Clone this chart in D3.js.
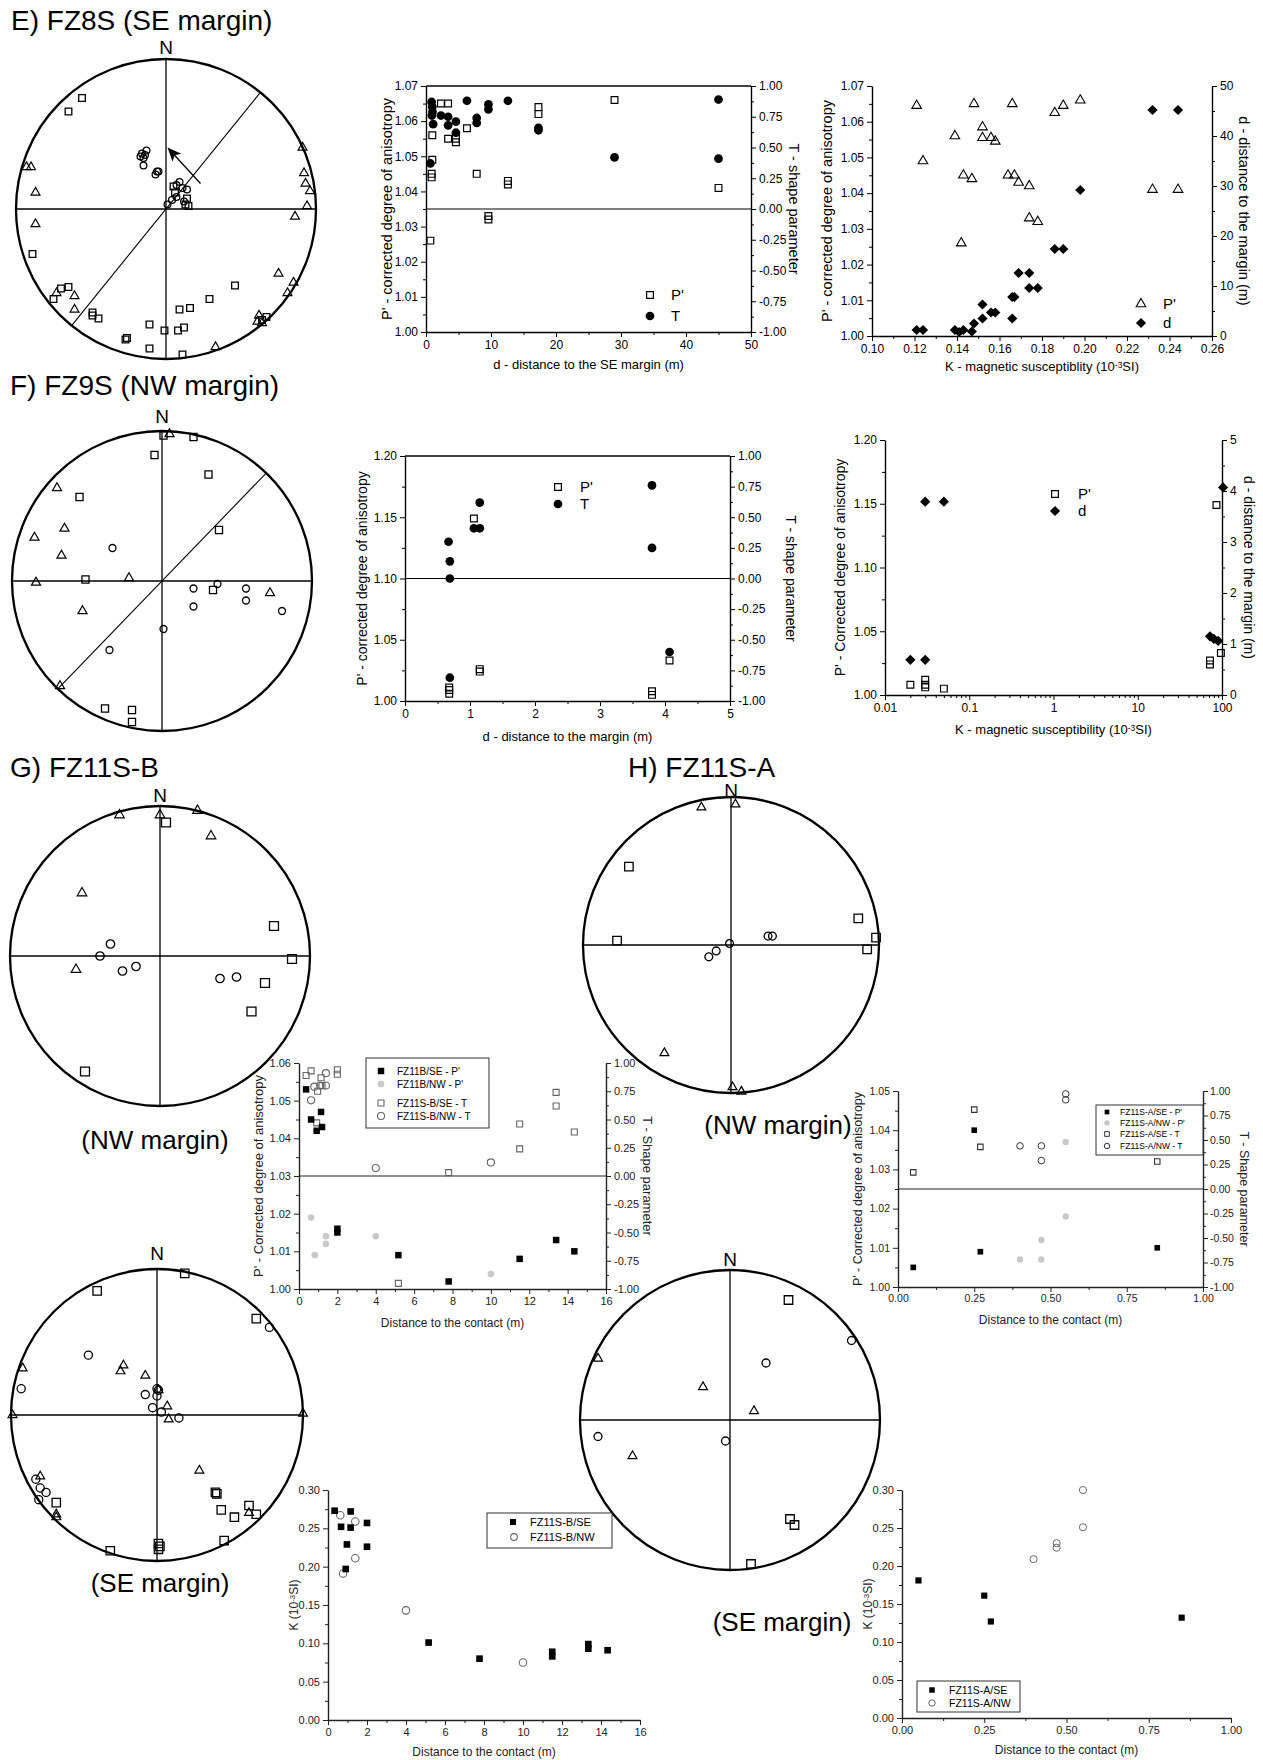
<!DOCTYPE html>
<html><head><meta charset="utf-8">
<script src="https://cdn.jsdelivr.net/npm/d3@7"></script>
<style>
body{margin:0;background:#fff;}
svg{display:block;background:#fff;}
</style></head><body>
<script>
// ======================= DATA =======================
// Stereonets: points given in Schmidt-net (equal-area) projected coordinates, unit radius: [east, north]
// ---- E) FZ8S (SE margin)
const E_netSquares = [[-0.56,0.74],[-0.65,0.65],[-0.89,-0.30],[-0.65,-0.52],[-0.70,-0.53],[-0.75,-0.60],[-0.49,-0.69],[-0.49,-0.71],[-0.45,-0.73],[-0.27,-0.87],[-0.26,-0.86],[-0.11,-0.93],[-0.11,-0.77],[-0.01,-0.81],[0.09,-0.67],[0.16,-0.66],[0.12,-0.79],[0.08,-0.81],[0.11,-0.97],[0.29,-0.60],[0.46,-0.51],[0.67,-0.72],[0.64,-0.74],[0.05,0.15],[0.14,0.07],[0.13,0.03],[0.06,0.11],[0.15,0.02]];
const E_netTriangles = [[-0.93,0.28],[-0.90,0.28],[-0.87,0.11],[-0.87,-0.10],[-0.73,-0.56],[-0.61,-0.58],[-0.61,-0.67],[0.91,0.41],[0.92,0.24],[0.93,0.17],[0.96,0.12],[0.94,0.02],[0.86,-0.05],[0.75,-0.43],[0.85,-0.49],[0.81,-0.56],[0.62,-0.71],[0.61,-0.75],[0.64,-0.76],[0.33,-0.92]];
const E_netCircles = [[-0.16,0.37],[-0.14,0.36],[-0.17,0.35],[-0.13,0.39],[-0.15,0.34],[-0.15,0.29],[-0.06,0.25],[-0.07,0.23],[-0.05,0.25],[0.09,0.18],[0.14,0.13],[0.07,0.08],[0.04,0.06],[0.01,0.03],[0.11,0.14],[0.07,0.16],[0.12,0.05]];
const E_planeAzimuth = 39;
const E_arrow = [[0.23,0.17],[0.01,0.41]];
// E) P' and T vs distance to the SE margin
const E_P_dist = [0.97,0.97,0.87,0.87,0.67,2.3,3.4,3.4,4.6,4.6,6.3,7.8,9.6,9.6,12.6,12.6,17.3,17.3,29.0,45.0];
const E_P_val  = [1.056,1.049,1.045,1.044,1.026,1.065,1.065,1.055,1.055,1.054,1.058,1.045,1.033,1.032,1.043,1.042,1.064,1.062,1.066,1.041];
const E_T_dist = [0.87,0.97,1.0,0.9,1.1,0.67,2.3,3.4,3.4,4.6,4.6,6.3,7.8,7.8,9.6,9.6,12.6,17.3,17.3,29.0,45.0,45.0];
const E_T_val  = [0.87,0.83,0.79,0.76,0.69,0.37,0.76,0.75,0.68,0.71,0.62,0.88,0.74,0.70,0.85,0.81,0.88,0.66,0.64,0.42,0.89,0.41];
// E) P' and d vs K
const E_K_tri = [0.121,0.124,0.139,0.142,0.143,0.147,0.148,0.152,0.152,0.156,0.158,0.166,0.164,0.167,0.169,0.174,0.174,0.178,0.186,0.190,0.198,0.232,0.244];
const E_P_tri = [1.0645,1.049,1.056,1.026,1.045,1.044,1.065,1.0585,1.0555,1.0555,1.0545,1.065,1.045,1.045,1.043,1.042,1.033,1.032,1.0625,1.0645,1.066,1.041,1.041];
const E_K_dia = [0.121,0.124,0.139,0.141,0.143,0.147,0.148,0.152,0.152,0.156,0.158,0.166,0.166,0.167,0.169,0.174,0.174,0.178,0.186,0.190,0.198,0.232,0.244];
const E_d_dia = [1.2,1.2,1.2,0.8,1.2,0.9,2.5,3.5,6.3,4.7,4.7,7.8,3.5,7.8,12.6,12.6,9.6,9.6,17.4,17.4,29.2,45.2,45.2];

// ---- F) FZ9S (NW margin)
const F_netSquares = [[0.01,0.97],[0.21,0.96],[-0.05,0.84],[0.31,0.71],[-0.55,0.56],[0.38,0.34],[-0.51,0.01],[0.34,-0.06],[-0.38,-0.85],[-0.20,-0.86],[-0.20,-0.94]];
const F_netTriangles = [[0.05,0.98],[-0.70,0.62],[-0.65,0.35],[-0.85,0.29],[-0.67,0.17],[-0.84,-0.01],[-0.22,0.02],[-0.53,-0.20],[0.72,-0.08],[-0.68,-0.70]];
const F_netCircles = [[-0.33,0.22],[0.21,-0.05],[0.37,-0.02],[0.56,-0.05],[0.21,-0.17],[0.56,-0.13],[0.80,-0.20],[0.01,-0.32],[-0.35,-0.46]];
const F_planeAzimuth = 44;
const F_P_dist = [0.68,0.68,0.68,1.06,1.15,1.15,3.80,3.80,4.07];
const F_P_val  = [1.011,1.009,1.006,1.149,1.026,1.024,1.008,1.005,1.033];
const F_T_dist = [0.67,0.69,0.69,0.69,1.06,1.15,1.15,3.80,3.80,4.07];
const F_T_val  = [0.30,0.14,0.00,-0.81,0.41,0.41,0.62,0.76,0.25,-0.60];
const F_K_sq = [0.02,0.03,0.03,0.03,0.05,86,72,72,97];
const F_P_sq = [1.008,1.012,1.008,1.006,1.005,1.149,1.027,1.024,1.033];
const F_K_dia = [0.02,0.03,0.03,0.05,72,80,90,103];
const F_d_dia = [0.69,0.69,3.79,3.79,1.15,1.10,1.06,4.07];

// ---- G) FZ11S-B
const G1_netTriangles = [[-0.27,0.94],[0.00,0.94],[0.25,0.97],[0.34,0.80],[-0.52,0.42],[-0.56,-0.09]];
const G1_netSquares = [[0.04,0.89],[0.76,0.20],[0.88,-0.02],[0.70,-0.18],[0.61,-0.37],[-0.50,-0.77]];
const G1_netCircles = [[-0.33,0.08],[-0.40,0.00],[-0.25,-0.10],[-0.16,-0.07],[0.40,-0.15],[0.51,-0.14]];
const G2_netSquares = [[0.19,0.97],[-0.41,0.85],[0.68,0.66],[-0.69,-0.60],[0.40,-0.53],[0.41,-0.54],[0.44,-0.65],[0.53,-0.70],[0.63,-0.62],[0.68,-0.68],[0.46,-0.86],[-0.32,-0.93],[0.01,-0.88],[0.02,-0.90],[0.01,-0.92]];
const G2_netTriangles = [[-0.92,0.32],[-0.23,0.34],[-0.25,0.30],[-0.08,0.27],[0.07,0.06],[0.08,-0.03],[-0.99,0.00],[1.00,0.01],[-0.80,-0.42],[-0.69,-0.68],[-0.69,-0.70],[0.29,-0.38],[0.63,-0.67],[0.01,0.17]];
const G2_netCircles = [[-0.47,0.41],[-0.93,0.18],[0.77,0.60],[-0.08,0.14],[0.00,0.13],[0.01,0.17],[0.00,0.18],[-0.03,0.05],[0.03,0.02],[0.15,-0.02],[-0.83,-0.44],[-0.80,-0.50],[-0.76,-0.53],[-0.81,-0.58]];
const G_SE_P_dist = [0.37,0.63,0.92,1.15,1.2,2.0,2.0,5.18,7.8,11.5,13.4,14.35];
const G_SE_P_val  = [1.053,1.045,1.042,1.047,1.043,1.016,1.015,1.009,1.002,1.008,1.013,1.010];
const G_NW_P_dist = [0.63,0.82,1.4,1.4,4.0,10.0];
const G_NW_P_val  = [1.019,1.009,1.014,1.012,1.014,1.004];
const G_SE_T_dist = [0.37,0.63,0.97,1.15,1.2,0.92,2.0,2.0,5.18,7.8,11.5,11.5,13.4,13.4,14.35];
const G_SE_T_val  = [0.89,0.93,0.75,0.87,0.80,0.47,0.94,0.90,-0.95,0.03,0.46,0.24,0.74,0.62,0.39];
const G_NW_T_dist = [0.63,0.8,1.1,1.4,1.4,4.0,10.0];
const G_NW_T_val  = [0.67,0.79,0.80,0.91,0.80,0.07,0.12];
const G_SE_K_dist = [0.34,0.67,1.16,1.16,0.97,0.91,2.0,2.0,5.16,7.77,11.5,11.5,13.35,13.35,14.34];
const G_SE_K_val  = [0.273,0.252,0.272,0.251,0.229,0.197,0.257,0.226,0.101,0.080,0.089,0.083,0.099,0.093,0.091];
const G_NW_K_dist = [0.63,1.4,0.77,1.4,4.0,10.0];
const G_NW_K_val  = [0.267,0.259,0.191,0.211,0.143,0.075];

// ---- H) FZ11S-A
const H1_netTriangles = [[-0.20,0.93],[0.03,0.95],[-0.45,-0.73],[0.01,-0.96],[0.07,-0.99]];
const H1_netSquares = [[-0.69,0.53],[-0.77,0.03],[0.86,0.18],[0.98,0.05],[0.92,-0.03]];
const H1_netCircles = [[0.25,0.06],[0.28,0.06],[-0.01,0.01],[-0.10,-0.04],[-0.15,-0.08]];
const H2_netSquares = [[0.39,0.80],[0.40,-0.66],[0.43,-0.70],[0.14,-0.96]];
const H2_netTriangles = [[-0.88,0.41],[-0.18,0.22],[0.16,0.06],[-0.65,-0.24]];
const H2_netCircles = [[0.81,0.53],[0.24,0.38],[-0.88,-0.11],[-0.03,-0.14]];
const H_SE_P_dist = [0.05,0.25,0.27,0.85];
const H_SE_P_val  = [1.005,1.040,1.009,1.010];
const H_NW_P_dist = [0.40,0.47,0.47,0.55,0.55];
const H_NW_P_val  = [1.007,1.007,1.012,1.018,1.037];
const H_SE_T_dist = [0.05,0.25,0.27,0.85];
const H_SE_T_val  = [0.17,0.81,0.43,0.28];
const H_NW_T_dist = [0.40,0.47,0.47,0.55,0.55];
const H_NW_T_val  = [0.44,0.44,0.29,0.97,0.91];
const H_SE_K_dist = [0.05,0.25,0.27,0.85];
const H_SE_K_val  = [0.181,0.161,0.127,0.132];
const H_NW_K_dist = [0.40,0.47,0.47,0.55,0.55];
const H_NW_K_val  = [0.209,0.230,0.224,0.300,0.251];

// ---- Tick labels
const T_ticks = [-1,-0.75,-0.5,-0.25,0,0.25,0.5,0.75,1];
const E_dTicks = [0,10,20,30,40,50];
const E_PTicks = [1.00,1.01,1.02,1.03,1.04,1.05,1.06,1.07];
const E_KTicks = [0.10,0.12,0.14,0.16,0.18,0.20,0.22,0.24,0.26];
const F_dTicks = [0,1,2,3,4,5];
const F_PTicks = [1.00,1.05,1.10,1.15,1.20];
const F_KTicks = [0.01,0.1,1,10,100];
const G_dTicks = [0,2,4,6,8,10,12,14,16];
const G_PTicks = [1.00,1.01,1.02,1.03,1.04,1.05,1.06];
const H_dTicks = [0,0.25,0.5,0.75,1];
const H_PTicks = [1.00,1.01,1.02,1.03,1.04,1.05];
const K_Ticks = [0,0.05,0.10,0.15,0.20,0.25,0.30];

// ======================= DRAWING =======================
const FONT = '"Liberation Sans", Arial, Helvetica, sans-serif';
const svg = d3.select("body").append("svg").attr("width",1263).attr("height",1760)
  .attr("font-family",FONT);

const SHAPES = {square:d3.symbolSquare, circle:d3.symbolCircle, triangle:d3.symbolTriangle, diamond:d3.symbolSquare};
function marks(g, pts, xs, ys, m){
  g.append("g").selectAll("path").data(pts).join("path")
    .attr("d", d3.symbol().type(SHAPES[m.shape]).size(m.size))
    .attr("transform", d => `translate(${xs(d[0])},${ys(d[1])})` + (m.shape==="diamond"?" rotate(45)":""))
    .attr("fill", m.fill||"none").attr("stroke", m.stroke||"none").attr("stroke-width", m.sw||1);
}
const zip = (a,b) => a.map((v,i)=>[v,b[i]]);
const f2 = d => d.toFixed(2);

function rich(sel, parts, supSize){
  parts.forEach(p => {
    if (typeof p === "string") sel.append("tspan").text(p);
    else sel.append("tspan").attr("baseline-shift","38%").attr("font-size",supSize).text(p.sup);
  });
}

function chart(o){
  const g = svg.append("g");
  const x = (o.xLog ? d3.scaleLog() : d3.scaleLinear()).domain(o.xDomain).range([o.L,o.R]);
  const yL = d3.scaleLinear().domain(o.yLDomain).range([o.B,o.T]);
  const yR = o.yRDomain ? d3.scaleLinear().domain(o.yRDomain).range([o.B,o.T]) : null;
  const fs = o.fs || 12, col = o.col || "#000";
  function ax(gen, tx, ty, major){
    const a = g.append("g").attr("transform",`translate(${tx},${ty})`).call(gen);
    a.select(".domain").attr("stroke", major ? col : "none").attr("stroke-width",1.4);
    a.selectAll(".tick line").attr("stroke",col).attr("stroke-width",1);
    a.selectAll(".tick text").attr("font-size",fs).attr("font-family",FONT).attr("fill",col);
  }
  ax(d3.axisBottom(x).tickValues(o.xMinor).tickSize(3).tickFormat(""), 0, o.B, false);
  ax(d3.axisBottom(x).tickValues(o.xTicks).tickSize(5).tickSizeOuter(0).tickPadding(3).tickFormat(o.xFmt), 0, o.B, true);
  ax(d3.axisLeft(yL).tickValues(o.yLMinor).tickSize(3).tickFormat(""), o.L, 0, false);
  ax(d3.axisLeft(yL).tickValues(o.yLTicks).tickSize(5).tickSizeOuter(0).tickPadding(3).tickFormat(o.yLFmt), o.L, 0, true);
  if (yR){
    ax(d3.axisRight(yR).tickValues(o.yRMinor).tickSize(3).tickFormat(""), o.R, 0, false);
    ax(d3.axisRight(yR).tickValues(o.yRTicks).tickSize(5).tickSizeOuter(0).tickPadding(o.rPad||3).tickFormat(o.yRFmt), o.R, 0, true);
  }
  if (o.box) g.append("line").attr("x1",o.L).attr("x2",o.R).attr("y1",o.T).attr("y2",o.T).attr("stroke",col).attr("stroke-width",1.4);
  if (o.zero && yR) g.append("line").attr("x1",o.L).attr("x2",o.R).attr("y1",yR(0)).attr("y2",yR(0)).attr("stroke",col).attr("stroke-width",1.2);
  const tfs = o.tfs || 13, rfs = o.rfs || tfs;
  const midY = (o.T+o.B)/2;
  if (o.lt){ const t = g.append("text").attr("transform",`translate(${o.ltX},${midY}) rotate(-90)`).attr("text-anchor","middle").attr("dy","0.35em").attr("font-size",rfs).attr("fill",col); rich(t, o.lt, rfs*0.65); }
  if (o.rt){ g.append("text").attr("transform",`translate(${o.rtX},${midY}) rotate(90)`).attr("text-anchor","middle").attr("dy","0.35em").attr("font-size",rfs).attr("fill",col).text(o.rt); }
  if (o.bt){ const t = g.append("text").attr("x",(o.L+o.R)/2).attr("y",o.btY).attr("text-anchor","middle").attr("dy","0.35em").attr("font-size",tfs).attr("fill",col); rich(t, o.bt, tfs*0.65); }
  return {g,x,yL,yR};
}

function net(o){
  const g = svg.append("g");
  const sx = d3.scaleLinear().domain([-1,1]).range([o.cx-o.R,o.cx+o.R]);
  const sy = d3.scaleLinear().domain([-1,1]).range([o.cy+o.R,o.cy-o.R]);
  const ln = (x1,y1,x2,y2,w) => g.append("line").attr("x1",sx(x1)).attr("y1",sy(y1)).attr("x2",sx(x2)).attr("y2",sy(y2)).attr("stroke","#000").attr("stroke-width",w);
  ln(0,1,0,-1,1.3); ln(-1,0,1,0,1.3);
  if (o.planeAz != null){
    const a = o.planeAz*Math.PI/180;
    ln(Math.sin(a),Math.cos(a),-Math.sin(a),-Math.cos(a),1.1);
  }
  g.append("circle").attr("cx",sx(0)).attr("cy",sy(0)).attr("r",o.R).attr("fill","none").attr("stroke","#000").attr("stroke-width",2.3);
  g.append("text").attr("x",sx(0)).attr("y",sy(1)-o.nGap).attr("text-anchor","middle").attr("font-size",19).text("N");
  marks(g, o.squares, sx, sy, {shape:"square", size:o.sq, stroke:"#000", sw:1.3});
  marks(g, o.triangles, sx, sy, {shape:"triangle", size:o.tr, stroke:"#000", sw:1.2});
  marks(g, o.circles, sx, sy, {shape:"circle", size:o.ci, stroke:"#000", sw:1.3});
  if (o.arrow){
    const [p0,p1] = o.arrow;
    const x0=sx(p0[0]), y0=sy(p0[1]), x1=sx(p1[0]), y1=sy(p1[1]);
    const L = Math.hypot(x1-x0,y1-y0), ux=(x1-x0)/L, uy=(y1-y0)/L, hl=14, hw=6;
    g.append("line").attr("x1",x0).attr("y1",y0).attr("x2",x1-ux*hl*0.7).attr("y2",y1-uy*hl*0.7).attr("stroke","#000").attr("stroke-width",1.3);
    g.append("path").attr("d",`M${x1},${y1}L${x1-ux*hl-uy*hw},${y1-uy*hl+ux*hw}L${x1-ux*hl*0.75},${y1-uy*hl*0.75}L${x1-ux*hl+uy*hw},${y1-uy*hl-ux*hw}Z`).attr("fill","#000");
  }
  return g;
}
function label(x,y,txt,fs,anchor){
  svg.append("text").attr("x",x).attr("y",y).attr("font-size",fs).attr("text-anchor",anchor||"start").text(txt);
}
function legendItem(g, x, y, m, txt, tx, fs){
  marks(g, [[0,0]], v=>x+v, v=>y+v, m);
  g.append("text").attr("x",tx).attr("y",y).attr("dy","0.35em").attr("font-size",fs).text(txt);
}
const minorRange = (a,b,s) => d3.range(a, b+s/2, s).map(v=>+v.toFixed(4));

// ---------------- Titles ----------------
label(11,30,"E)  FZ8S (SE margin)",28);
label(10,395,"F)  FZ9S (NW margin)",28);
label(10,777,"G)  FZ11S-B",28);
label(628,777,"H)  FZ11S-A",28);
label(155,1149,"(NW margin)",26,"middle");
label(160,1592,"(SE margin)",26,"middle");
label(778,1134,"(NW margin)",26,"middle");
label(782,1631,"(SE margin)",26,"middle");

// ---------------- Stereonets ----------------
net({cx:166,cy:209,R:150,nGap:5,planeAz:E_planeAzimuth,arrow:E_arrow,squares:E_netSquares,triangles:E_netTriangles,circles:E_netCircles,sq:44,tr:34,ci:36});
net({cx:162,cy:581,R:150,nGap:8,planeAz:F_planeAzimuth,squares:F_netSquares,triangles:F_netTriangles,circles:F_netCircles,sq:50,tr:36,ci:38});
net({cx:160,cy:956,R:150,nGap:4,squares:G1_netSquares,triangles:G1_netTriangles,circles:G1_netCircles,sq:80,tr:40,ci:56});
net({cx:157,cy:1415,R:146,nGap:9,squares:G2_netSquares,triangles:G2_netTriangles,circles:G2_netCircles,sq:70,tr:34,ci:52});
net({cx:731,cy:945,R:148,nGap:0,squares:H1_netSquares,triangles:H1_netTriangles,circles:H1_netCircles,sq:72,tr:34,ci:48});
net({cx:730,cy:1420,R:150,nGap:4,squares:H2_netSquares,triangles:H2_netTriangles,circles:H2_netCircles,sq:72,tr:34,ci:50});

// ---------------- E middle: P', T vs d ----------------
{
  const c = chart({L:426,R:751,T:86,B:332,xDomain:[0,50],xTicks:E_dTicks,xMinor:minorRange(5,45,10),xFmt:d3.format("d"),
    yLDomain:[1,1.07],yLTicks:E_PTicks,yLMinor:minorRange(1.005,1.065,0.01),yLFmt:f2,
    yRDomain:[-1,1],yRTicks:T_ticks,yRMinor:minorRange(-0.875,0.875,0.25),yRFmt:f2,box:true,zero:true,rfs:14.5,
    lt:["P' - corrected degree of anisotropy"],ltX:387,rt:"T - shape parameter",rtX:794,bt:["d - distance to the SE margin (m)"],btY:364});
  marks(c.g, zip(E_P_dist,E_P_val), c.x, c.yL, {shape:"square",size:46,stroke:"#000",sw:1.2});
  marks(c.g, zip(E_T_dist,E_T_val), c.x, c.yR, {shape:"circle",size:60,fill:"#000"});
  legendItem(c.g,650,295,{shape:"square",size:46,stroke:"#000",sw:1.2},"P'",671,15);
  legendItem(c.g,650,316,{shape:"circle",size:60,fill:"#000"},"T",671,15);
}
// ---------------- E right: P', d vs K ----------------
{
  const c = chart({L:872,R:1212,T:86,B:336,xDomain:[0.10,0.26],xTicks:E_KTicks,xMinor:minorRange(0.11,0.25,0.02),xFmt:f2,
    yLDomain:[1,1.07],yLTicks:E_PTicks,yLMinor:minorRange(1.005,1.065,0.01),yLFmt:f2,
    yRDomain:[0,50],yRTicks:E_dTicks,yRMinor:minorRange(5,45,10),yRFmt:d3.format("d"),rfs:14.5,
    lt:["P' - corrected degree of anisotropy"],ltX:827,rt:"d - distance to the margin (m)",rtX:1244,
    bt:["K - magnetic susceptiblity (10",{sup:"-3"},"SI)"],btY:366});
  marks(c.g, zip(E_K_tri,E_P_tri), c.x, c.yL, {shape:"triangle",size:40,stroke:"#000",sw:1.1});
  marks(c.g, zip(E_K_dia,E_d_dia), c.x, c.yR, {shape:"diamond",size:52,fill:"#000"});
  legendItem(c.g,1141,304,{shape:"triangle",size:40,stroke:"#000",sw:1.1},"P'",1163,15);
  legendItem(c.g,1141,323,{shape:"diamond",size:52,fill:"#000"},"d",1163,15);
}
// ---------------- F middle ----------------
{
  const c = chart({L:405,R:730,T:456,B:701,xDomain:[0,5],xTicks:F_dTicks,xMinor:minorRange(0.5,4.5,1),xFmt:d3.format("d"),
    yLDomain:[1,1.2],yLTicks:F_PTicks,yLMinor:minorRange(1.025,1.175,0.05),yLFmt:f2,
    yRDomain:[-1,1],yRTicks:T_ticks,yRMinor:minorRange(-0.875,0.875,0.25),yRFmt:f2,box:true,zero:true,rfs:14,
    lt:["P' - corrected degree of anisotropy"],ltX:362,rt:"T - shape parameter",rtX:791,bt:["d - distance to the margin (m)"],btY:736});
  marks(c.g, zip(F_P_dist,F_P_val), c.x, c.yL, {shape:"square",size:46,stroke:"#000",sw:1.2});
  marks(c.g, zip(F_T_dist,F_T_val), c.x, c.yR, {shape:"circle",size:60,fill:"#000"});
  legendItem(c.g,558,487,{shape:"square",size:46,stroke:"#000",sw:1.2},"P'",580,15);
  legendItem(c.g,558,504,{shape:"circle",size:60,fill:"#000"},"T",580,15);
}
// ---------------- F right (log K) ----------------
{
  const logMinor = [];
  [0.01,0.1,1,10].forEach(b => d3.range(2,10).forEach(k => logMinor.push(+(b*k).toPrecision(3))));
  const c = chart({L:885,R:1222,T:440,B:695,xLog:true,xDomain:[0.01,100],xTicks:F_KTicks,xMinor:logMinor,xFmt:d=>String(d),
    yLDomain:[1,1.2],yLTicks:F_PTicks,yLMinor:minorRange(1.025,1.175,0.05),yLFmt:f2,
    yRDomain:[0,5],yRTicks:F_dTicks,yRMinor:minorRange(0.5,4.5,1),yRFmt:d3.format("d"),rfs:14,
    lt:["P' - Corrected degree of anisotropy"],ltX:840,rt:"d - distance to the margin (m)",rtX:1249,
    bt:["K - magnetic susceptibility (10",{sup:"-3"},"SI)"],btY:729});
  marks(c.g, zip(F_K_sq,F_P_sq), c.x, c.yL, {shape:"square",size:46,stroke:"#000",sw:1.2});
  marks(c.g, zip(F_K_dia,F_d_dia), c.x, c.yR, {shape:"diamond",size:52,fill:"#000"});
  legendItem(c.g,1055,494,{shape:"square",size:46,stroke:"#000",sw:1.2},"P'",1078,15);
  legendItem(c.g,1055,511,{shape:"diamond",size:52,fill:"#000"},"d",1078,15);
}
// ---------------- G: P', T vs distance ----------------
{
  const c = chart({L:299,R:606,T:1063,B:1289,xDomain:[0,16],xTicks:G_dTicks,xMinor:minorRange(1,15,2),xFmt:d3.format("d"),
    yLDomain:[1,1.06],yLTicks:G_PTicks,yLMinor:minorRange(1.005,1.055,0.01),yLFmt:f2,
    yRDomain:[-1,1],yRTicks:T_ticks,yRMinor:minorRange(-0.875,0.875,0.25),yRFmt:f2,zero:true,fs:11,tfs:12,rfs:13,col:"#222",
    lt:["P' - Corrected degree of anisotropy"],ltX:258,rt:"T - Shape parameter",rtX:648,bt:["Distance to the contact (m)"],btY:1323});
  marks(c.g, zip(G_SE_T_dist,G_SE_T_val), c.x, c.yR, {shape:"square",size:36,stroke:"#666",sw:1.1});
  marks(c.g, zip(G_NW_T_dist,G_NW_T_val), c.x, c.yR, {shape:"circle",size:40,stroke:"#666",sw:1.1});
  marks(c.g, zip(G_NW_P_dist,G_NW_P_val), c.x, c.yL, {shape:"circle",size:34,fill:"#c8c8c8"});
  marks(c.g, zip(G_SE_P_dist,G_SE_P_val), c.x, c.yL, {shape:"square",size:42,fill:"#000"});
  c.g.append("rect").attr("x",366).attr("y",1058).attr("width",123).attr("height",70).attr("fill","#fff").attr("stroke","#333").attr("stroke-width",1);
  legendItem(c.g,381,1071,{shape:"square",size:42,fill:"#000"},"FZ11B/SE - P'",397,10);
  legendItem(c.g,381,1084,{shape:"circle",size:34,fill:"#c8c8c8"},"FZ11B/NW - P'",397,10);
  legendItem(c.g,381,1103,{shape:"square",size:36,stroke:"#666",sw:1.1},"FZ11S-B/SE - T",397,10);
  legendItem(c.g,381,1116,{shape:"circle",size:40,stroke:"#666",sw:1.1},"FZ11S-B/NW - T",397,10);
}
// ---------------- G: K vs distance ----------------
{
  const c = chart({L:328,R:640,T:1490,B:1720,xDomain:[0,16],xTicks:G_dTicks,xMinor:minorRange(1,15,2),xFmt:d3.format("d"),
    yLDomain:[0,0.30],yLTicks:K_Ticks,yLMinor:minorRange(0.025,0.275,0.05),yLFmt:f2,fs:11,tfs:12,col:"#222",
    lt:["K (10",{sup:"-3"},"SI)"],ltX:294,bt:["Distance to the contact (m)"],btY:1752});
  marks(c.g, zip(G_NW_K_dist,G_NW_K_val), c.x, c.yL, {shape:"circle",size:44,stroke:"#666",sw:1.1});
  marks(c.g, zip(G_SE_K_dist,G_SE_K_val), c.x, c.yL, {shape:"square",size:44,fill:"#000"});
  c.g.append("rect").attr("x",487).attr("y",1513).attr("width",125).attr("height",35).attr("fill","#fff").attr("stroke","#333").attr("stroke-width",1);
  legendItem(c.g,513,1522,{shape:"square",size:36,fill:"#000"},"FZ11S-B/SE",530,11);
  legendItem(c.g,514,1537,{shape:"circle",size:36,stroke:"#666",sw:1.1},"FZ11S-B/NW",530,11);
}
// ---------------- H: P', T vs distance ----------------
{
  const c = chart({L:898,R:1203,T:1091,B:1287,xDomain:[0,1],xTicks:H_dTicks,xMinor:minorRange(0.125,0.875,0.25),xFmt:f2,
    yLDomain:[1,1.05],yLTicks:H_PTicks,yLMinor:minorRange(1.005,1.045,0.01),yLFmt:f2,rPad:2,
    yRDomain:[-1,1],yRTicks:T_ticks,yRMinor:minorRange(-0.875,0.875,0.25),yRFmt:f2,zero:true,fs:10.5,tfs:12,rfs:12.5,col:"#222",
    lt:["P' - Corrected degree of anisotropy"],ltX:858,rt:"T - Shape parameter",rtX:1244,bt:["Distance to the contact (m)"],btY:1320});
  marks(c.g, zip(H_SE_T_dist,H_SE_T_val), c.x, c.yR, {shape:"square",size:30,stroke:"#333",sw:1.1});
  marks(c.g, zip(H_NW_T_dist,H_NW_T_val), c.x, c.yR, {shape:"circle",size:34,stroke:"#333",sw:1});
  marks(c.g, zip(H_NW_P_dist,H_NW_P_val), c.x, c.yL, {shape:"circle",size:32,fill:"#c8c8c8"});
  marks(c.g, zip(H_SE_P_dist,H_SE_P_val), c.x, c.yL, {shape:"square",size:32,fill:"#000"});
  c.g.append("rect").attr("x",1096).attr("y",1105).attr("width",107).attr("height",50).attr("fill","#fff").attr("stroke","#333").attr("stroke-width",1);
  legendItem(c.g,1107,1112,{shape:"square",size:22,fill:"#000"},"FZ11S-A/SE - P'",1120,8.5);
  legendItem(c.g,1107,1123,{shape:"circle",size:24,fill:"#c8c8c8"},"FZ11S-A/NW - P'",1120,8.5);
  legendItem(c.g,1107,1134,{shape:"square",size:22,stroke:"#333",sw:1},"FZ11S-A/SE - T",1120,8.5);
  legendItem(c.g,1107,1146,{shape:"circle",size:24,stroke:"#333",sw:1},"FZ11S-A/NW - T",1120,8.5);
}
// ---------------- H: K vs distance ----------------
{
  const c = chart({L:902,R:1231,T:1490,B:1718,xDomain:[0,1],xTicks:H_dTicks,xMinor:minorRange(0.125,0.875,0.25),xFmt:f2,
    yLDomain:[0,0.30],yLTicks:K_Ticks,yLMinor:minorRange(0.025,0.275,0.05),yLFmt:f2,fs:11,tfs:12,col:"#222",
    lt:["K (10",{sup:"-3"},"SI)"],ltX:868,bt:["Distance to the contact (m)"],btY:1750});
  marks(c.g, zip(H_NW_K_dist,H_NW_K_val), c.x, c.yL, {shape:"circle",size:40,stroke:"#666",sw:1});
  marks(c.g, zip(H_SE_K_dist,H_SE_K_val), c.x, c.yL, {shape:"square",size:38,fill:"#000"});
  c.g.append("rect").attr("x",917).attr("y",1681).attr("width",103).attr("height",31).attr("fill","#fff").attr("stroke","#555").attr("stroke-width",1.2);
  legendItem(c.g,932,1690,{shape:"square",size:30,fill:"#000"},"FZ11S-A/SE",949,10.5);
  legendItem(c.g,932,1703,{shape:"circle",size:32,stroke:"#666",sw:1},"FZ11S-A/NW",949,10.5);
}
</script>
</body></html>
